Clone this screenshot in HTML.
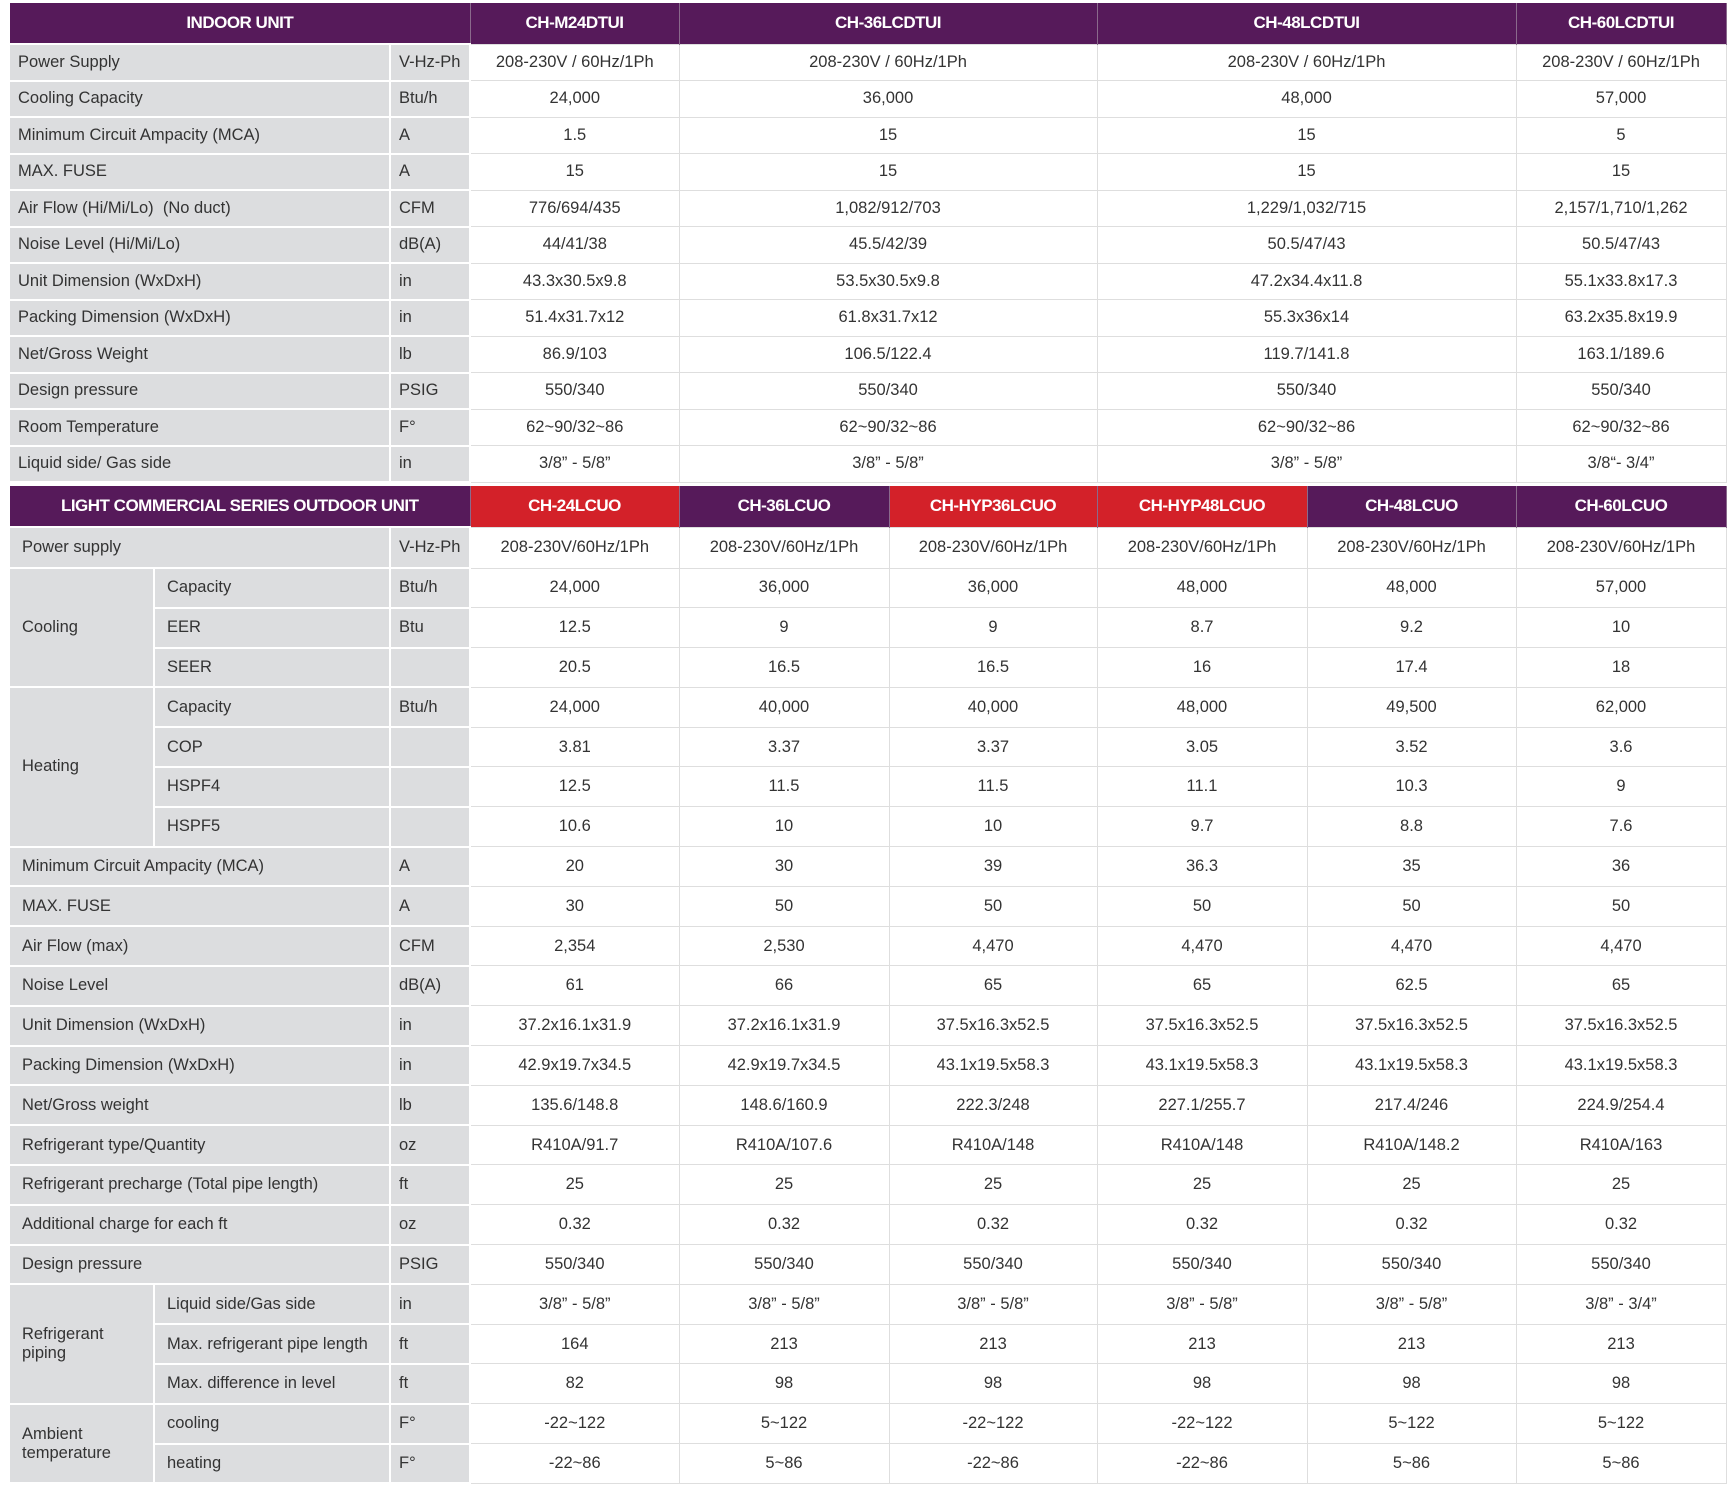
<!DOCTYPE html>
<html><head><meta charset="utf-8"><style>
body{margin:0;width:1733px;height:1492px;background:#fff;position:relative;overflow:hidden;font-family:"Liberation Sans","DejaVu Sans",sans-serif;color:#333;}
table{position:absolute;left:10px;border-collapse:collapse;table-layout:fixed;}
td,th{padding:0;font-size:16.5px;white-space:nowrap;}
th{background:#561a5a;color:#fff;font-weight:bold;font-size:17px;letter-spacing:-0.5px;border-right:1.5px solid #8a6a8c;}
th.r{background:#d32129;}
td.l{background:#dcdddf;border:2px solid #fff;border-left:none;padding-left:8px;text-align:left;}
td.u{background:#dcdddf;border:2px solid #fff;padding-left:8px;}
td.d{text-align:center;border:1px solid #dedede;background:#fff;}
#t1 tr{height:36.5px}
#t1 tr.h{height:41px}
#t2 tr{height:39.8px}
#t2 tr.h{height:41px}
#t2 td.l{padding-left:12px}
</style></head><body>
<table id="t1" style="top:3px;width:1716px">
<colgroup><col style="width:380px"><col style="width:80px"><col style="width:209px"><col style="width:418px"><col style="width:419px"><col style="width:210px"></colgroup>
<tr class="h"><th colspan="2">INDOOR UNIT</th><th>CH-M24DTUI</th><th>CH-36LCDTUI</th><th>CH-48LCDTUI</th><th>CH-60LCDTUI</th></tr>
<tr><td class="l">Power Supply</td><td class="u">V-Hz-Ph</td><td class="d">208-230V / 60Hz/1Ph</td><td class="d">208-230V / 60Hz/1Ph</td><td class="d">208-230V / 60Hz/1Ph</td><td class="d">208-230V / 60Hz/1Ph</td></tr>
<tr><td class="l">Cooling Capacity</td><td class="u">Btu/h</td><td class="d">24,000</td><td class="d">36,000</td><td class="d">48,000</td><td class="d">57,000</td></tr>
<tr><td class="l">Minimum Circuit Ampacity (MCA)</td><td class="u">A</td><td class="d">1.5</td><td class="d">15</td><td class="d">15</td><td class="d">5</td></tr>
<tr><td class="l">MAX. FUSE</td><td class="u">A</td><td class="d">15</td><td class="d">15</td><td class="d">15</td><td class="d">15</td></tr>
<tr><td class="l">Air Flow (Hi/Mi/Lo)&nbsp; (No duct)</td><td class="u">CFM</td><td class="d">776/694/435</td><td class="d">1,082/912/703</td><td class="d">1,229/1,032/715</td><td class="d">2,157/1,710/1,262</td></tr>
<tr><td class="l">Noise Level (Hi/Mi/Lo)</td><td class="u">dB(A)</td><td class="d">44/41/38</td><td class="d">45.5/42/39</td><td class="d">50.5/47/43</td><td class="d">50.5/47/43</td></tr>
<tr><td class="l">Unit Dimension (WxDxH)</td><td class="u">in</td><td class="d">43.3x30.5x9.8</td><td class="d">53.5x30.5x9.8</td><td class="d">47.2x34.4x11.8</td><td class="d">55.1x33.8x17.3</td></tr>
<tr><td class="l">Packing Dimension (WxDxH)</td><td class="u">in</td><td class="d">51.4x31.7x12</td><td class="d">61.8x31.7x12</td><td class="d">55.3x36x14</td><td class="d">63.2x35.8x19.9</td></tr>
<tr><td class="l">Net/Gross Weight</td><td class="u">lb</td><td class="d">86.9/103</td><td class="d">106.5/122.4</td><td class="d">119.7/141.8</td><td class="d">163.1/189.6</td></tr>
<tr><td class="l">Design pressure</td><td class="u">PSIG</td><td class="d">550/340</td><td class="d">550/340</td><td class="d">550/340</td><td class="d">550/340</td></tr>
<tr><td class="l">Room Temperature</td><td class="u">F°</td><td class="d">62~90/32~86</td><td class="d">62~90/32~86</td><td class="d">62~90/32~86</td><td class="d">62~90/32~86</td></tr>
<tr><td class="l">Liquid side/ Gas side</td><td class="u">in</td><td class="d">3/8” - 5/8”</td><td class="d">3/8” - 5/8”</td><td class="d">3/8” - 5/8”</td><td class="d">3/8“- 3/4”</td></tr>
</table>

<table id="t2" style="top:486px;width:1716px">
<colgroup><col style="width:144px"><col style="width:236px"><col style="width:80px"><col style="width:209px"><col style="width:210px"><col style="width:208px"><col style="width:210px"><col style="width:209px"><col style="width:210px"></colgroup>
<tr class="h"><th colspan="3">LIGHT COMMERCIAL SERIES OUTDOOR UNIT</th><th class="r">CH-24LCUO</th><th>CH-36LCUO</th><th class="r">CH-HYP36LCUO</th><th class="r">CH-HYP48LCUO</th><th>CH-48LCUO</th><th>CH-60LCUO</th></tr>
<tr class="h"><td class="l" colspan="2">Power supply</td><td class="u">V-Hz-Ph</td><td class="d">208-230V/60Hz/1Ph</td><td class="d">208-230V/60Hz/1Ph</td><td class="d">208-230V/60Hz/1Ph</td><td class="d">208-230V/60Hz/1Ph</td><td class="d">208-230V/60Hz/1Ph</td><td class="d">208-230V/60Hz/1Ph</td></tr>
<tr><td class="l" rowspan="3">Cooling</td><td class="u" style="padding-left:12px">Capacity</td><td class="u">Btu/h</td><td class="d">24,000</td><td class="d">36,000</td><td class="d">36,000</td><td class="d">48,000</td><td class="d">48,000</td><td class="d">57,000</td></tr>
<tr><td class="u" style="padding-left:12px">EER</td><td class="u">Btu</td><td class="d">12.5</td><td class="d">9</td><td class="d">9</td><td class="d">8.7</td><td class="d">9.2</td><td class="d">10</td></tr>
<tr><td class="u" style="padding-left:12px">SEER</td><td class="u"></td><td class="d">20.5</td><td class="d">16.5</td><td class="d">16.5</td><td class="d">16</td><td class="d">17.4</td><td class="d">18</td></tr>
<tr><td class="l" rowspan="4">Heating</td><td class="u" style="padding-left:12px">Capacity</td><td class="u">Btu/h</td><td class="d">24,000</td><td class="d">40,000</td><td class="d">40,000</td><td class="d">48,000</td><td class="d">49,500</td><td class="d">62,000</td></tr>
<tr><td class="u" style="padding-left:12px">COP</td><td class="u"></td><td class="d">3.81</td><td class="d">3.37</td><td class="d">3.37</td><td class="d">3.05</td><td class="d">3.52</td><td class="d">3.6</td></tr>
<tr><td class="u" style="padding-left:12px">HSPF4</td><td class="u"></td><td class="d">12.5</td><td class="d">11.5</td><td class="d">11.5</td><td class="d">11.1</td><td class="d">10.3</td><td class="d">9</td></tr>
<tr><td class="u" style="padding-left:12px">HSPF5</td><td class="u"></td><td class="d">10.6</td><td class="d">10</td><td class="d">10</td><td class="d">9.7</td><td class="d">8.8</td><td class="d">7.6</td></tr>
<tr><td class="l" colspan="2">Minimum Circuit Ampacity (MCA)</td><td class="u">A</td><td class="d">20</td><td class="d">30</td><td class="d">39</td><td class="d">36.3</td><td class="d">35</td><td class="d">36</td></tr>
<tr><td class="l" colspan="2">MAX. FUSE</td><td class="u">A</td><td class="d">30</td><td class="d">50</td><td class="d">50</td><td class="d">50</td><td class="d">50</td><td class="d">50</td></tr>
<tr><td class="l" colspan="2">Air Flow (max)</td><td class="u">CFM</td><td class="d">2,354</td><td class="d">2,530</td><td class="d">4,470</td><td class="d">4,470</td><td class="d">4,470</td><td class="d">4,470</td></tr>
<tr><td class="l" colspan="2">Noise Level</td><td class="u">dB(A)</td><td class="d">61</td><td class="d">66</td><td class="d">65</td><td class="d">65</td><td class="d">62.5</td><td class="d">65</td></tr>
<tr><td class="l" colspan="2">Unit Dimension (WxDxH)</td><td class="u">in</td><td class="d">37.2x16.1x31.9</td><td class="d">37.2x16.1x31.9</td><td class="d">37.5x16.3x52.5</td><td class="d">37.5x16.3x52.5</td><td class="d">37.5x16.3x52.5</td><td class="d">37.5x16.3x52.5</td></tr>
<tr><td class="l" colspan="2">Packing Dimension (WxDxH)</td><td class="u">in</td><td class="d">42.9x19.7x34.5</td><td class="d">42.9x19.7x34.5</td><td class="d">43.1x19.5x58.3</td><td class="d">43.1x19.5x58.3</td><td class="d">43.1x19.5x58.3</td><td class="d">43.1x19.5x58.3</td></tr>
<tr><td class="l" colspan="2">Net/Gross weight</td><td class="u">lb</td><td class="d">135.6/148.8</td><td class="d">148.6/160.9</td><td class="d">222.3/248</td><td class="d">227.1/255.7</td><td class="d">217.4/246</td><td class="d">224.9/254.4</td></tr>
<tr><td class="l" colspan="2">Refrigerant type/Quantity</td><td class="u">oz</td><td class="d">R410A/91.7</td><td class="d">R410A/107.6</td><td class="d">R410A/148</td><td class="d">R410A/148</td><td class="d">R410A/148.2</td><td class="d">R410A/163</td></tr>
<tr><td class="l" colspan="2">Refrigerant precharge (Total pipe length)</td><td class="u">ft</td><td class="d">25</td><td class="d">25</td><td class="d">25</td><td class="d">25</td><td class="d">25</td><td class="d">25</td></tr>
<tr><td class="l" colspan="2">Additional charge for each ft</td><td class="u">oz</td><td class="d">0.32</td><td class="d">0.32</td><td class="d">0.32</td><td class="d">0.32</td><td class="d">0.32</td><td class="d">0.32</td></tr>
<tr><td class="l" colspan="2">Design pressure</td><td class="u">PSIG</td><td class="d">550/340</td><td class="d">550/340</td><td class="d">550/340</td><td class="d">550/340</td><td class="d">550/340</td><td class="d">550/340</td></tr>
<tr><td class="l" rowspan="3">Refrigerant<br>piping</td><td class="u" style="padding-left:12px">Liquid side/Gas side</td><td class="u">in</td><td class="d">3/8” - 5/8”</td><td class="d">3/8” - 5/8”</td><td class="d">3/8” - 5/8”</td><td class="d">3/8” - 5/8”</td><td class="d">3/8” - 5/8”</td><td class="d">3/8” - 3/4”</td></tr>
<tr><td class="u" style="padding-left:12px">Max. refrigerant pipe length</td><td class="u">ft</td><td class="d">164</td><td class="d">213</td><td class="d">213</td><td class="d">213</td><td class="d">213</td><td class="d">213</td></tr>
<tr><td class="u" style="padding-left:12px">Max. difference in level</td><td class="u">ft</td><td class="d">82</td><td class="d">98</td><td class="d">98</td><td class="d">98</td><td class="d">98</td><td class="d">98</td></tr>
<tr><td class="l" rowspan="2">Ambient<br>temperature</td><td class="u" style="padding-left:12px">cooling</td><td class="u">F°</td><td class="d">-22~122</td><td class="d">5~122</td><td class="d">-22~122</td><td class="d">-22~122</td><td class="d">5~122</td><td class="d">5~122</td></tr>
<tr><td class="u" style="padding-left:12px">heating</td><td class="u">F°</td><td class="d">-22~86</td><td class="d">5~86</td><td class="d">-22~86</td><td class="d">-22~86</td><td class="d">5~86</td><td class="d">5~86</td></tr>
</table>
</body></html>
